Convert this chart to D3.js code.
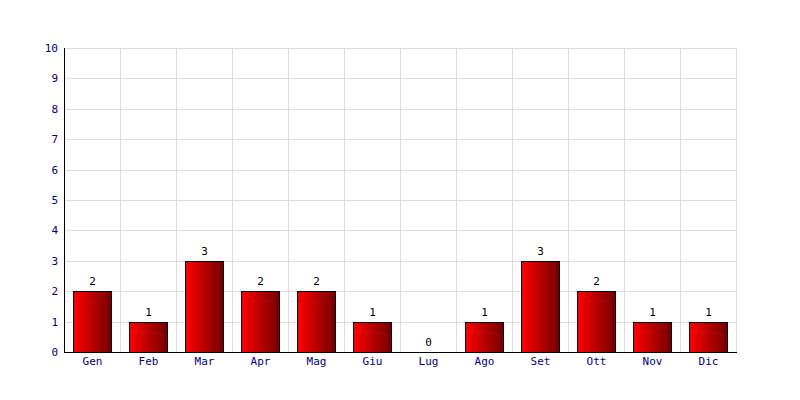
<!DOCTYPE html>
<html><head><meta charset="utf-8">
<script src="https://cdn.jsdelivr.net/npm/d3@7"></script>
<style>body{margin:0;background:#fff}svg{display:block}</style>
</head><body>
<svg id="c" width="800" height="400"></svg>
<script>
const categories = ["Gen","Feb","Mar","Apr","Mag","Giu","Lug","Ago","Set","Ott","Nov","Dic"];
const values = [2,1,3,2,2,1,0,1,3,2,1,1];
const yTicks = [0,1,2,3,4,5,6,7,8,9,10];

const svg = d3.select("#c");
const m = {l:64, r:64, t:48, b:48};
const W = 800, H = 400;
const x = d3.scaleBand().domain(categories).range([m.l, W - m.r]).paddingInner(18/56).paddingOuter(9/56);
const xb = d3.scaleBand().domain(categories).range([m.l, W - m.r]);
const y = d3.scaleLinear().domain([0,10]).range([H - m.b, m.t]);
const font = "'DejaVu Sans Mono', monospace";

const defs = svg.append("defs");
const g = defs.append("linearGradient").attr("id","grad").attr("x1","0").attr("x2","1").attr("y1","0").attr("y2","0");
g.append("stop").attr("offset","0").attr("stop-color","#ff0000");
g.append("stop").attr("offset","1").attr("stop-color","#720000");

// grid
svg.append("g").selectAll("line").data(yTicks.slice(1)).join("line")
  .attr("x1", m.l).attr("x2", W - m.r)
  .attr("y1", d => Math.round(y(d)) + 0.5).attr("y2", d => Math.round(y(d)) + 0.5)
  .attr("stroke", "#dddddd");
svg.append("g").selectAll("line").data(categories).join("line")
  .attr("x1", d => Math.round(xb(d) + xb.bandwidth()) + 0.5).attr("x2", d => Math.round(xb(d) + xb.bandwidth()) + 0.5)
  .attr("y1", m.t).attr("y2", H - m.b)
  .attr("stroke", "#dddddd");

// bars
svg.append("g").selectAll("rect").data(values.map((v,i)=>({c:categories[i],v})).filter(d=>d.v>0)).join("rect")
  .attr("x", d => Math.round(x(d.c)) + 0.5)
  .attr("y", d => Math.round(y(d.v)) + 0.5)
  .attr("width", Math.round(x.bandwidth()))
  .attr("height", d => Math.round(y(0)) - Math.round(y(d.v)))
  .attr("fill", "url(#grad)").attr("stroke", "#000").attr("stroke-width", 1);

// value labels
svg.append("g").selectAll("text").data(values.map((v,i)=>({c:categories[i],v}))).join("text")
  .attr("x", d => x(d.c) + x.bandwidth()/2 + 0.5)
  .attr("y", d => y(d.v) - 6)
  .attr("text-anchor","middle").attr("font-family", font).attr("font-size", 11).attr("fill","#000")
  .text(d => d.v);

// axes
const yAxis = d3.axisLeft(y).tickValues(yTicks).tickSize(0).tickPadding(6).tickFormat(d3.format("d"));
const ya = svg.append("g").attr("transform", `translate(${m.l},0)`).call(yAxis);
ya.select(".domain").remove();
ya.selectAll("text").attr("font-family", font).attr("font-size", 11).attr("fill", "#000080");

const xAxis = d3.axisBottom(xb).tickSize(0).tickPadding(5);
const xa = svg.append("g").attr("transform", `translate(0.5,${H - m.b})`).call(xAxis);
xa.select(".domain").remove();
xa.selectAll("text").attr("font-family", font).attr("font-size", 11).attr("fill", "#000080");

svg.append("line").attr("x1", m.l + 0.5).attr("x2", m.l + 0.5).attr("y1", m.t).attr("y2", H - m.b + 1).attr("stroke","#000");
svg.append("line").attr("x1", m.l).attr("x2", W - m.r + 1).attr("y1", H - m.b + 0.5).attr("y2", H - m.b + 0.5).attr("stroke","#000");
</script>
</body></html>
